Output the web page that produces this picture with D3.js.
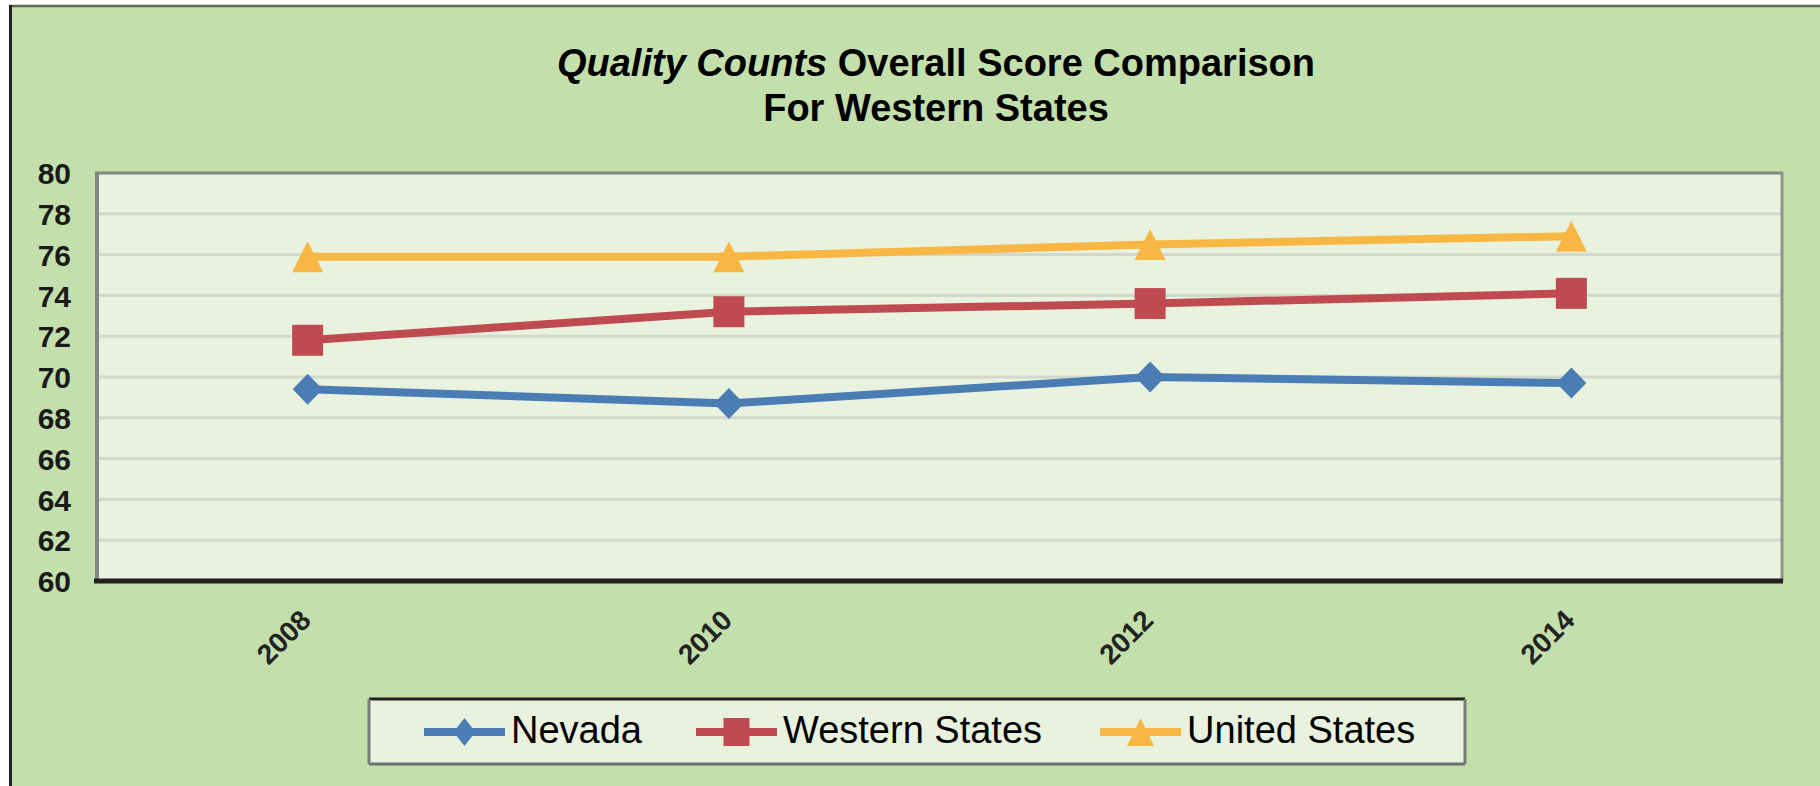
<!DOCTYPE html>
<html>
<head>
<meta charset="utf-8">
<script src="https://cdn.jsdelivr.net/npm/d3@7/dist/d3.min.js"></script>
<style>
  html, body { margin: 0; padding: 0; background: #ffffff; }
  svg { display: block; }
  text { font-family: "Liberation Sans", Arial, sans-serif; }
</style>
</head>
<body>
<svg id="chart" width="1820" height="786"></svg>
<script>
// ---- data ----
const years = ["2008", "2010", "2012", "2014"];
const nevada = [69.4, 68.7, 70.0, 69.7];
const westernStates = [71.8, 73.2, 73.6, 74.1];
const unitedStates = [75.9, 75.9, 76.5, 76.9];
const yTicks = [60, 62, 64, 66, 68, 70, 72, 74, 76, 78, 80];
const seriesNames = ["Nevada", "Western States", "United States"];
const seriesColors = ["#4a7db4", "#bf4b50", "#f8b742"];
const seriesShapes = ["diamond", "square", "triangle"];

const series = [nevada, westernStates, unitedStates].map((vals, i) => ({
  name: seriesNames[i], color: seriesColors[i], shape: seriesShapes[i],
  values: vals.map((v, j) => ({ year: years[j], value: v }))
}));

const svg = d3.select("#chart");
const W = 1820, H = 786;
const plot = { left: 97, right: 1782, top: 173, bottom: 581 };

// outer background
svg.append("rect").attr("x", 9).attr("y", 5).attr("width", W - 9).attr("height", H - 5)
  .attr("fill", "#c3dfab");
svg.append("line").attr("x1", 9).attr("x2", W).attr("y1", 6).attr("y2", 6)
  .attr("stroke", "#5e6857").attr("stroke-width", 2.5);
svg.append("line").attr("x1", 10.5).attr("x2", 10.5).attr("y1", 5).attr("y2", H)
  .attr("stroke", "#222222").attr("stroke-width", 3);

// title
const title = svg.append("text").attr("text-anchor", "middle")
  .attr("font-size", 38).attr("font-weight", "bold").attr("fill", "#000");
const t1 = title.append("tspan").attr("x", 936).attr("y", 76);
t1.append("tspan").attr("font-style", "italic").text("Quality Counts");
t1.append("tspan").text(" Overall Score Comparison");
title.append("tspan").attr("x", 936).attr("y", 121).text("For Western States");

// scales
const x = d3.scaleBand().domain(years).range([plot.left, plot.right]);
const y = d3.scaleLinear().domain([60, 80]).range([plot.bottom, plot.top]);
const cx = d => x(d) + x.bandwidth() / 2;

// plot background
svg.append("rect").attr("x", plot.left).attr("y", plot.top)
  .attr("width", plot.right - plot.left).attr("height", plot.bottom - plot.top)
  .attr("fill", "#e9f1df");

// gridlines
svg.append("g").selectAll("line").data(yTicks.filter(t => t > 60 && t < 80)).join("line")
  .attr("x1", plot.left).attr("x2", plot.right)
  .attr("y1", d => y(d)).attr("y2", d => y(d))
  .attr("stroke", "#d3d8cc").attr("stroke-width", 3);

// frame
svg.append("line").attr("x1", plot.left).attr("x2", plot.right).attr("y1", plot.top).attr("y2", plot.top)
  .attr("stroke", "#858585").attr("stroke-width", 3);
svg.append("line").attr("x1", plot.left).attr("x2", plot.left).attr("y1", plot.top - 1.5).attr("y2", plot.bottom)
  .attr("stroke", "#858585").attr("stroke-width", 4);
svg.append("line").attr("x1", plot.right).attr("x2", plot.right).attr("y1", plot.top - 1.5).attr("y2", plot.bottom)
  .attr("stroke", "#8f948c").attr("stroke-width", 3);

// y axis labels
const yAxis = d3.axisLeft(y).tickValues(yTicks).tickSize(0).tickPadding(0).tickFormat(d3.format("d"));
const gy = svg.append("g").attr("transform", `translate(71,0)`).call(yAxis);
gy.select(".domain").remove();
gy.selectAll("text").attr("font-size", 30).attr("font-weight", "bold")
  .attr("fill", "#1a1a1a").attr("font-family", "Liberation Sans, Arial, sans-serif")
  .attr("dy", "0.357em").attr("x", 0);

// x axis (bottom black line)
const xAxis = d3.axisBottom(x).tickSize(0).tickPadding(0);
const gx = svg.append("g").attr("transform", `translate(0,${plot.bottom})`).call(xAxis);
gx.select(".domain").attr("stroke", "#231f20").attr("stroke-width", 5)
  .attr("d", `M${plot.left - 3},0H${plot.right + 1}`);
gx.selectAll(".tick text")
  .attr("font-size", 28).attr("font-weight", "bold").attr("fill", "#222")
  .attr("font-family", "Liberation Sans, Arial, sans-serif")
  .attr("text-anchor", "end").attr("dy", 0).attr("y", 0)
  .attr("transform", "translate(5,41) rotate(-45)");

// symbols
function symbolPath(shape, w, h) {
  if (shape === "square") return `M${-w/2},${-h/2}h${w}v${h}h${-w}Z`;
  if (shape === "diamond") return `M0,${-h/2}L${w/2},0L0,${h/2}L${-w/2},0Z`;
  return `M0,${-h/2}L${w/2},${h/2}L${-w/2},${h/2}Z`;
}

const line = d3.line().x(d => cx(d.year)).y(d => y(d.value));
const gs = svg.append("g").selectAll("g").data(series).join("g");
gs.append("path").attr("d", d => line(d.values)).attr("fill", "none")
  .attr("stroke", d => d.color).attr("stroke-width", 8).attr("stroke-linejoin", "round");
gs.each(function(s) {
  d3.select(this).selectAll("path.m").data(s.values).join("path").attr("class", "m")
    .attr("transform", d => `translate(${cx(d.year)},${y(d.value)})`)
    .attr("d", s.shape === "diamond" ? symbolPath("diamond", 30, 31)
              : s.shape === "square" ? symbolPath("square", 31, 31)
              : symbolPath("triangle", 31, 31))
    .attr("fill", s.color);
});

// legend
const lg = { x: 369, y: 699, w: 1096, h: 65 };
svg.append("rect").attr("x", lg.x).attr("y", lg.y).attr("width", lg.w).attr("height", lg.h)
  .attr("fill", "#e9f1df");
svg.append("line").attr("x1", lg.x).attr("x2", lg.x + lg.w).attr("y1", lg.y).attr("y2", lg.y)
  .attr("stroke", "#231f20").attr("stroke-width", 3);
svg.append("line").attr("x1", lg.x).attr("x2", lg.x + lg.w).attr("y1", lg.y + lg.h).attr("y2", lg.y + lg.h)
  .attr("stroke", "#6d6d6d").attr("stroke-width", 3);
svg.append("line").attr("x1", lg.x).attr("x2", lg.x).attr("y1", lg.y).attr("y2", lg.y + lg.h)
  .attr("stroke", "#7a7a7a").attr("stroke-width", 3);
svg.append("line").attr("x1", lg.x + lg.w).attr("x2", lg.x + lg.w).attr("y1", lg.y).attr("y2", lg.y + lg.h)
  .attr("stroke", "#7a7a7a").attr("stroke-width", 3);

let lx = 424;
const ly = 732;
const gaps = [54, 58, 0];
series.forEach((s, i) => {
  const g = svg.append("g");
  g.append("line").attr("x1", lx).attr("x2", lx + 81).attr("y1", ly).attr("y2", ly)
    .attr("stroke", s.color).attr("stroke-width", 8);
  g.append("path").attr("transform", `translate(${lx + 40.5},${ly})`)
    .attr("d", s.shape === "diamond" ? symbolPath("diamond", 22, 28)
              : s.shape === "square" ? symbolPath("square", 26, 28)
              : symbolPath("triangle", 27, 28))
    .attr("fill", s.color);
  const t = g.append("text").attr("x", lx + 87).attr("y", 743)
    .attr("font-size", 38).attr("fill", "#000").text(s.name);
  const tw = t.node().getComputedTextLength();
  lx = lx + 87 + tw + gaps[i];
});
</script>
</body>
</html>
